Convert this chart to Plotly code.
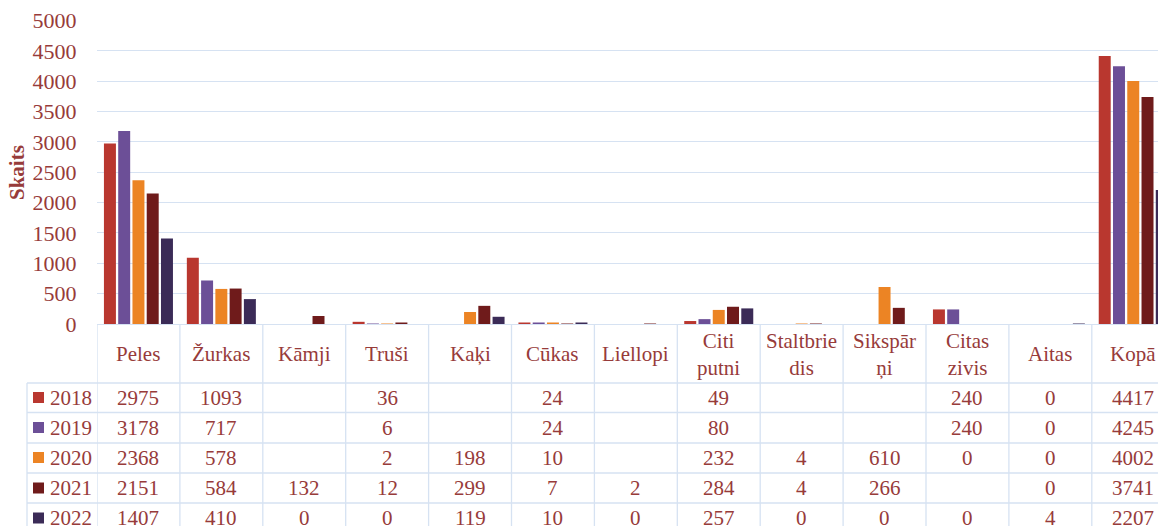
import plotly.graph_objects as go

# Categories (header row of the data table)
categories = ["Peles", "Žurkas", "Kāmji", "Truši", "Kaķi", "Cūkas", "Liellopi",
              "Citi<br>putni", "Staltbrie<br>dis", "Sikspār<br>ņi", "Citas<br>zivis",
              "Aitas", "Kopā"]
years = ["2018", "2019", "2020", "2021", "2022"]

# Values per year (None = empty cell)
v2018 = [2975, 1093, None, 36, None, 24, None, 49, None, None, 240, 0, 4417]
v2019 = [3178, 717, None, 6, None, 24, None, 80, None, None, 240, 0, 4245]
v2020 = [2368, 578, None, 2, 198, 10, None, 232, 4, 610, 0, 0, 4002]
v2021 = [2151, 584, 132, 12, 299, 7, 2, 284, 4, 266, None, 0, 3741]
v2022 = [1407, 410, 0, 0, 119, 10, 0, 257, 0, 0, 0, 4, 2207]
series = [v2018, v2019, v2020, v2021, v2022]

colors = ["#B9372F", "#6C4F97", "#EC8424", "#6F1B1B", "#3B2B57"]

W, H = 1158, 526
TEXT = "#973B3A"
GRID = "#D6E2F2"
FONT = "Liberation Serif"
FS = 21

# Pixel layout helpers
plot_left = 97
cat_px = 82.9
plot_bottom_px = 324
plot_top_px = 20.5


def py(ypx):
    return (H - ypx) / H


def px(xpx):
    return xpx / W


x_idx = list(range(len(categories)))
x_max = -0.5 + (W - plot_left) / cat_px

fig = go.Figure()
for yr, vals, col in zip(years, series, colors):
    fig.add_trace(go.Bar(
        x=x_idx, y=vals, name=yr, marker=dict(color=col, line=dict(width=0)),
        showlegend=False, hoverinfo="skip",
    ))

shapes = []
annotations = []

# Vertical column dividers of the table
for k in range(len(categories)):
    shapes.append(dict(type="line", xref="x", yref="paper",
                       x0=k - 0.5, x1=k - 0.5, y0=py(plot_bottom_px), y1=py(540),
                       line=dict(color=GRID, width=1.3), layer="above"))
# Legend column left border
shapes.append(dict(type="line", xref="paper", yref="paper",
                   x0=px(27), x1=px(27), y0=py(383), y1=py(540),
                   line=dict(color=GRID, width=1.3)))
# Horizontal row lines
row_lines = [383, 412.5, 443, 473, 503]
for ypx in row_lines:
    shapes.append(dict(type="line", xref="paper", yref="paper",
                       x0=px(27), x1=1.0, y0=py(ypx), y1=py(ypx),
                       line=dict(color=GRID, width=1.3)))

# Header labels
for k, c in enumerate(categories):
    annotations.append(dict(x=k, y=py(354), xref="x", yref="paper", text=c,
                            showarrow=False, xanchor="center", yanchor="middle",
                            font=dict(family=FONT, size=FS, color=TEXT)))

# Rows: legend key + year + values
row_centers = [397.5, 427.5, 457.5, 488, 518]
for yr, vals, col, yc in zip(years, series, colors, row_centers):
    shapes.append(dict(type="rect", xref="paper", yref="paper",
                       x0=px(33), x1=px(44), y0=py(yc - 5.5), y1=py(yc + 5.5),
                       fillcolor=col, line=dict(width=0)))
    annotations.append(dict(x=px(48), y=py(yc), xref="paper", yref="paper", text=yr,
                            showarrow=False, xanchor="left", yanchor="middle",
                            font=dict(family=FONT, size=FS, color=TEXT)))
    for k, v in enumerate(vals):
        if v is None:
            continue
        annotations.append(dict(x=k, y=py(yc), xref="x", yref="paper", text=str(v),
                                showarrow=False, xanchor="center", yanchor="middle",
                                font=dict(family=FONT, size=FS, color=TEXT)))

# Y axis title
annotations.append(dict(x=px(17), y=py(173), xref="paper", yref="paper", text="<b>Skaits</b>",
                        showarrow=False, textangle=-90, xanchor="center", yanchor="middle",
                        font=dict(family=FONT, size=21, color=TEXT)))

fig.update_layout(
    width=W, height=H,
    margin=dict(l=0, r=0, t=0, b=0, autoexpand=False),
    paper_bgcolor="white", plot_bgcolor="white",
    barmode="group", bargap=0.14, bargroupgap=0.16,
    shapes=shapes, annotations=annotations,
    hovermode=False,
    xaxis=dict(domain=[px(plot_left), 1.0], range=[-0.5, x_max], automargin=False,
               showticklabels=False, showgrid=False, zeroline=False,
               showline=False, ticks=""),
    yaxis=dict(domain=[py(plot_bottom_px), py(plot_top_px)], range=[0, 5000],
               automargin=False,
               tickvals=list(range(0, 5001, 500)),
               showgrid=True, gridcolor=GRID, gridwidth=1.3,
               zeroline=True, zerolinecolor=GRID, zerolinewidth=1.3,
               ticks="outside", ticklen=15, tickcolor="rgba(0,0,0,0)",
               tickfont=dict(family=FONT, size=22, color=TEXT)),
)

fig.write_html("out.html", config={"displayModeBar": False})
